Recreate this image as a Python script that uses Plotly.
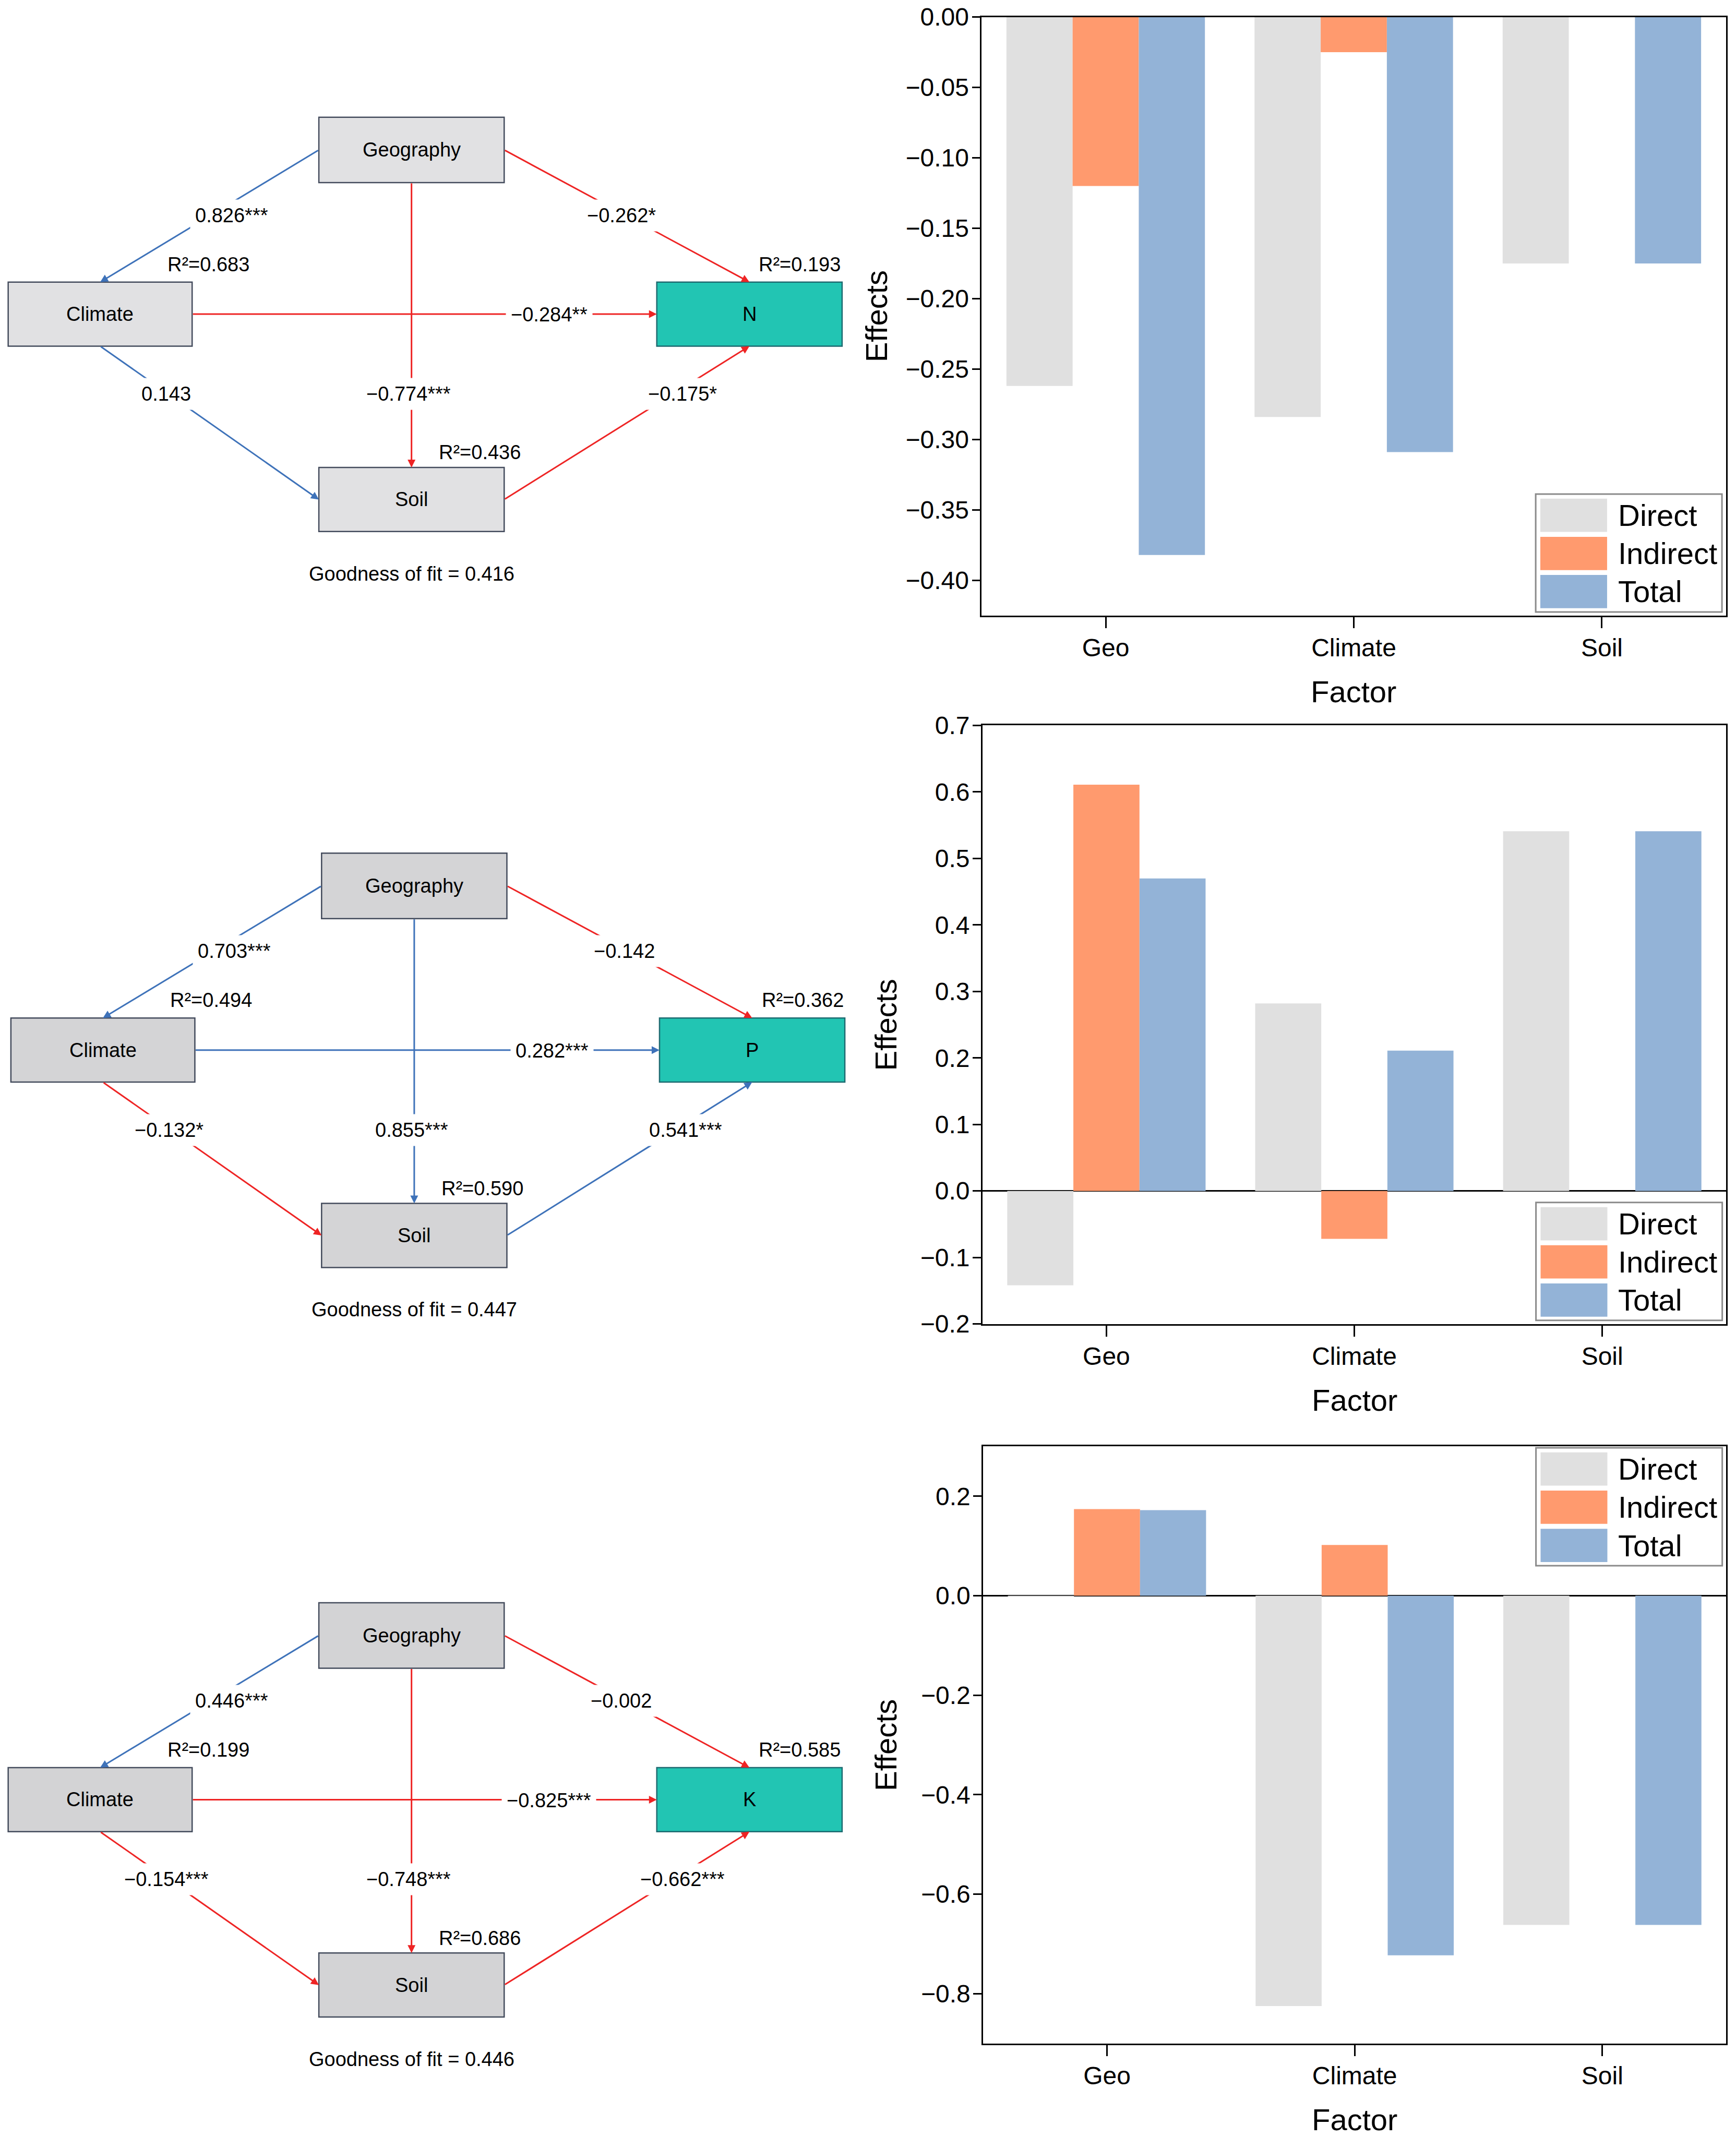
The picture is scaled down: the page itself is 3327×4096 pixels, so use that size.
import plotly.graph_objects as go

# ---------------- data ----------------
factors = ["Geo", "Climate", "Soil"]
series_names = ["Direct", "Indirect", "Total"]

n_direct = [-0.262, -0.284, -0.175]
n_indirect = [-0.120, -0.025, 0.000]
n_total = [-0.382, -0.309, -0.175]

p_direct = [-0.142, 0.282, 0.541]
p_indirect = [0.611, -0.072, 0.000]
p_total = [0.470, 0.211, 0.541]

k_direct = [-0.002, -0.825, -0.662]
k_indirect = [0.174, 0.102, 0.000]
k_total = [0.172, -0.723, -0.662]

targets = ["N", "P", "K"]
path_edges = [("Geography", "Climate"), ("Geography", "Target"), ("Climate", "Target"),
              ("Climate", "Soil"), ("Geography", "Soil"), ("Soil", "Target")]
n_coef = ["0.826***", "\u22120.262*", "\u22120.284**", "0.143", "\u22120.774***", "\u22120.175*"]
p_coef = ["0.703***", "\u22120.142", "0.282***", "\u22120.132*", "0.855***", "0.541***"]
k_coef = ["0.446***", "\u22120.002", "\u22120.825***", "\u22120.154***", "\u22120.748***", "\u22120.662***"]
n_r2 = ["0.683", "0.193", "0.436"]   # Climate, target, Soil
p_r2 = ["0.494", "0.362", "0.590"]
k_r2 = ["0.199", "0.585", "0.686"]
goodness = ["0.416", "0.447", "0.446"]

# ---------------- styles / layout ----------------
W, H = 3327, 4096
UW, UH = 1274.0, 1568.0          # layout unit grid
FONT = "Liberation Sans, Arial, sans-serif"
BAR_COLORS = ["#E0E0E0", "#FF9A6E", "#93B3D7"]
RED, BLUE = "#EE2424", "#3E72B9"
TEAL, TEAL_EDGE = "#22C5B3", "#1D6A70"
BOX_EDGE = "#434B5C"

panels = [
    dict(dx=0, dy=0, fill="#E1E1E3", plot=(720.4, 12.5, 1266.6, 451.6),
         yrange=[-0.425, 0.0], dtick=0.05, fmt=".2f", zero=False, leg="bottom", ytx=643),
    dict(dx=2, dy=540, fill="#D4D4D6", plot=(721.0, 532.3, 1266.8, 971.4),
         yrange=[-0.2, 0.7], dtick=0.1, fmt=".1f", zero=True, leg="bottom", ytx=650),
    dict(dx=0, dy=1090, fill="#D3D3D5", plot=(721.5, 1061.3, 1266.8, 1499.3),
         yrange=[-0.9, 0.3], dtick=0.2, fmt=".1f", zero=True, leg="top", ytx=650),
]

base_nodes = {"Geography": (234, 86, 370, 134), "Climate": (6, 207, 141, 254),
              "Target": (482, 207, 618, 254), "Soil": (234, 343, 370, 390)}
edge_sides = [("left", "top"), ("right", "top"), ("right", "left"),
              ("bottom", "left"), ("bottom", "top"), ("right", "bottom")]
label_pos = [(170, 158), (456, 158), (403, 231), (122, 289), (300, 289), (501, 289)]
r2_pos = [(153, 194), (587, 194), (352, 332)]
gof_pos = (302, 421)

DFONT = 38

def side_pt(rect, side):
    x0, y0, x1, y1 = rect
    return {"left": (x0, (y0 + y1) / 2), "right": (x1, (y0 + y1) / 2),
            "top": ((x0 + x1) / 2, y0), "bottom": ((x0 + x1) / 2, y1)}[side]

fig = go.Figure()
layout = dict(width=W, height=H, autosize=False,
              margin=dict(l=0, r=0, t=0, b=0, pad=0, autoexpand=False),
              paper_bgcolor="white", plot_bgcolor="rgba(0,0,0,0)",
              barmode="group", bargap=0.2, bargroupgap=0.0, showlegend=False,
              font=dict(family=FONT, color="black"))
shapes, annotations = [], []

chart_data = [(n_direct, n_indirect, n_total), (p_direct, p_indirect, p_total),
              (k_direct, k_indirect, k_total)]
coefs = [n_coef, p_coef, k_coef]
r2s = [n_r2, p_r2, k_r2]

for i, pnl in enumerate(panels):
    ax = "" if i == 0 else str(i + 1)
    for name, vals, col in zip(series_names, chart_data[i], BAR_COLORS):
        fig.add_trace(go.Bar(x=factors, y=vals, name=name, offsetgroup=name,
                             marker=dict(color=col, line=dict(width=0)),
                             showlegend=False, xaxis="x" + ax, yaxis="y" + ax))
    L, T, R, B = pnl["plot"]
    layout["xaxis" + ax] = dict(domain=[L / UW, R / UW], anchor="y" + ax, range=[-0.5, 2.5],
                                type="category", showline=True, mirror=True, linecolor="black",
                                linewidth=2.5, ticks="outside", ticklen=22, tickwidth=2.5,
                                tickcolor="black", tickfont=dict(size=48, color="black", family=FONT),
                                showgrid=False, zeroline=False, ticklabelstandoff=-4,
                                automargin=False, fixedrange=True)
    layout["yaxis" + ax] = dict(domain=[1 - B / UH, 1 - T / UH], anchor="x" + ax, range=pnl["yrange"],
                                tick0=0, dtick=pnl["dtick"], tickformat=pnl["fmt"], showline=True,
                                mirror=True, linecolor="black", linewidth=2.5, ticks="outside",
                                ticklen=16, tickwidth=2.5, tickcolor="black",
                                tickfont=dict(size=48, color="black", family=FONT), showgrid=False,
                                zeroline=pnl["zero"], zerolinecolor="black", zerolinewidth=3,
                                ticklabelstandoff=-4, automargin=False, fixedrange=True)
    # axis titles
    annotations.append(dict(x=pnl["ytx"], y=(T + B) / 2, xref="x4", yref="y4", text="Effects",
                            textangle=-90, showarrow=False, font=dict(size=58, color="black", family=FONT)))
    annotations.append(dict(x=(L + R) / 2, y=B + 56, xref="x4", yref="y4", text="Factor",
                            showarrow=False, font=dict(size=58, color="black", family=FONT)))
    # legend
    lw, lh = 136.7, 86.5
    lx1 = R - 2.9
    lx0 = lx1 - lw
    ly0 = (B - 2.6 - lh) if pnl["leg"] == "bottom" else (T + 1.0)
    shapes.append(dict(type="rect", xref="x4", yref="y4", x0=lx0, x1=lx1, y0=ly0, y1=ly0 + lh,
                       fillcolor="white", line=dict(color="#8A8A8A", width=3), layer="above"))
    for j, (name, col) in enumerate(zip(series_names, BAR_COLORS)):
        sy0 = ly0 + 3.4 + 28.0 * j
        shapes.append(dict(type="rect", xref="x4", yref="y4", x0=lx0 + 3.4, x1=lx0 + 52.4,
                           y0=sy0, y1=sy0 + 24.4, fillcolor=col, line=dict(width=0), layer="above"))
        annotations.append(dict(x=lx0 + 59.5, y=sy0 + 12.2, xref="x4", yref="y4", text=name,
                                xanchor="left", yanchor="middle", showarrow=False,
                                font=dict(size=58, color="black", family=FONT)))

    # ---- path diagram ----
    dx, dy = pnl["dx"], pnl["dy"]
    nodes = {k: (v[0] + dx, v[1] + dy, v[2] + dx, v[3] + dy) for k, v in base_nodes.items()}
    for key, rect in nodes.items():
        is_t = key == "Target"
        shapes.append(dict(type="rect", xref="x4", yref="y4", x0=rect[0], y0=rect[1],
                           x1=rect[2], y1=rect[3], fillcolor=TEAL if is_t else pnl["fill"],
                           line=dict(color=TEAL_EDGE if is_t else BOX_EDGE, width=2.5), layer="above"))
    # arrows
    for (src, dst), (s1, s2), coef in zip(path_edges, edge_sides, coefs[i]):
        x0, y0 = side_pt(nodes[src], s1)
        x1, y1 = side_pt(nodes[dst], s2)
        col = RED if coef.startswith("\u2212") else BLUE
        annotations.append(dict(x=x1, y=y1, ax=x0, ay=y0, xref="x4", yref="y4", axref="x4", ayref="y4",
                                text="", showarrow=True, arrowhead=2, arrowsize=1.0, arrowwidth=3,
                                arrowcolor=col, standoff=0, startstandoff=0))
    # coefficient labels (masking the lines)
    for (lx, ly), coef in zip(label_pos, coefs[i]):
        annotations.append(dict(x=lx + dx, y=ly + dy, xref="x4", yref="y4", text=coef, showarrow=False,
                                bgcolor="white", borderpad=9,
                                font=dict(size=DFONT, color="black", family=FONT)))
    # node labels
    for key, rect in nodes.items():
        txt = targets[i] if key == "Target" else key
        annotations.append(dict(x=(rect[0] + rect[2]) / 2, y=(rect[1] + rect[3]) / 2, xref="x4", yref="y4",
                                text=txt, showarrow=False, font=dict(size=DFONT, color="black", family=FONT)))
    # R2 labels
    for (rx, ry), r in zip(r2_pos, r2s[i]):
        annotations.append(dict(x=rx + dx, y=ry + dy, xref="x4", yref="y4", text="R\u00b2=" + r,
                                showarrow=False, font=dict(size=DFONT, color="black", family=FONT)))
    annotations.append(dict(x=gof_pos[0] + dx, y=gof_pos[1] + dy, xref="x4", yref="y4",
                            text="Goodness of fit = " + goodness[i], showarrow=False,
                            font=dict(size=DFONT, color="black", family=FONT)))

# overlay coordinate system for diagrams, titles and legends
fig.add_trace(go.Scatter(x=[], y=[], xaxis="x4", yaxis="y4", showlegend=False, hoverinfo="skip"))
layout["xaxis4"] = dict(domain=[0, 1], anchor="y4", range=[0, UW], visible=False,
                        automargin=False, fixedrange=True)
layout["yaxis4"] = dict(domain=[0, 1], anchor="x4", range=[UH, 0], visible=False,
                        automargin=False, fixedrange=True)
layout["shapes"] = shapes
layout["annotations"] = annotations
fig.update_layout(**layout)

fig.write_html("out.html", post_script="document.body.style.margin='0px';",
               config={"displayModeBar": False})
